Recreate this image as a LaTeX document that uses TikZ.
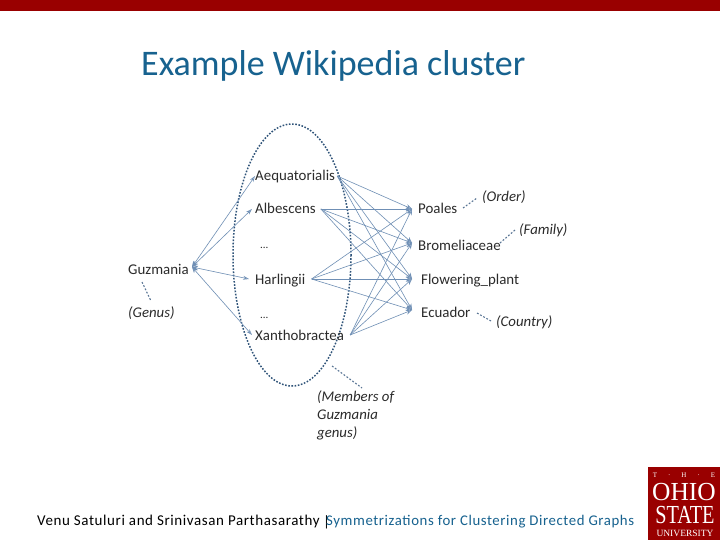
\documentclass[tikz,border=0pt]{standalone}
\usepackage{fontspec}
\setmainfont{Carlito}
\newfontfamily\serifx{Liberation Serif}
\newfontfamily\spaced[LetterSpace=4]{Carlito}
\usetikzlibrary{arrows.meta}
\definecolor{barred}{HTML}{990000}
\definecolor{titleblue}{HTML}{17628F}
\definecolor{edgeblue}{HTML}{6F8FB5}
\definecolor{dotblue}{HTML}{2F5379}
\definecolor{inkgrey}{HTML}{2B2B2B}
\tikzset{
 lbl/.style={inner sep=0pt,anchor=west,text height=10pt,text depth=0pt,font=\fontsize{14.9}{16}\selectfont,text=inkgrey},
 note/.style={lbl,font=\fontsize{14.8}{16}\selectfont\itshape},
 memnote/.style={inner sep=0pt,anchor=west,align=left,text=inkgrey,font=\fontsize{14.8}{18}\selectfont\itshape},
 link/.style={draw=edgeblue,line width=0.6pt,-{Stealth[length=6pt,width=5pt,open,fill=edgeblue!60]}},
 linkb/.style={draw=edgeblue,line width=0.6pt,{Stealth[length=6pt,width=5pt,fill=edgeblue]}-{Stealth[length=6pt,width=4pt,open]}},
 dotline/.style={draw=dotblue,line width=1.5pt,dash pattern=on 1.6pt off 1.6pt},
 ptr/.style={draw=dotblue!80,line width=1.1pt,dash pattern=on 1.8pt off 1.8pt},
 logo/.style={inner sep=0pt,text=white,font=\serifx},
}
\begin{document}
\begin{tikzpicture}[x=1pt,y=-1pt]
\useasboundingbox (0,0) rectangle (720,540);
\fill[white] (0,0) rectangle (720,540);
\fill[barred] (0,0) rectangle (720,11);
\node[inner sep=0pt,anchor=base west,text=titleblue,font=\fontsize{36}{38}\selectfont] (title) at (141,76) {Example Wikipedia cluster};
% ellipse
\draw[dotline] (292,255) ellipse [x radius=59,y radius=131];
% nodes
\node[lbl] (guz) at (128,269) {Guzmania};
\coordinate (guzE) at (192,267);
\node[note] (genus) at (128,312) {(Genus)};
\node[lbl] (aeq) at (255,176) {Aequatorialis};
\node[lbl] (alb) at (255,209) {Albescens};
\node[lbl,font=\fontsize{11}{12}\selectfont] (d1) at (260,243) {...};
\node[lbl] (har) at (255,279) {Harlingii};
\node[lbl,font=\fontsize{11}{12}\selectfont] (d2) at (260,313) {...};
\node[lbl] (xan) at (255,335) {Xanthobractea};
\node[lbl] (poa) at (418,209) {Poales};
\node[lbl] (bro) at (418,245) {Bromeliaceae};
\node[lbl] (flo) at (421,279) {Flowering\_plant};
\node[lbl] (ecu) at (421,312) {Ecuador};
\node[note] (ord) at (482,197) {(Order)};
\node[note] (fam) at (519,230) {(Family)};
\node[note] (cou) at (496,321) {(Country)};
\node[memnote] (mem) at (317,415) {(Members of\\Guzmania\\genus)};
% target points
\coordinate (tp) at (412,209);
\coordinate (tb) at (412,243);
\coordinate (tf) at (412,279);
\coordinate (te) at (412,310);
\coordinate (gs) at (142,282);
\coordinate (ge) at (151,301);
\coordinate (ms) at (332,366);
\coordinate (me) at (362,388);
\coordinate (os) at (463,208);
\coordinate (oe) at (477,198);
\coordinate (fs) at (500,243);
\coordinate (fe) at (515,230);
\coordinate (cs) at (477,313);
\coordinate (ce) at (491,321);
% fans
\foreach \s/\o in {aeq/2,alb/5,har/6,xan/6}{
 \foreach \t in {tp,tb,tf,te}{
  \draw[link] ([xshift=\o pt]\s.east) -- (\t);
 }
}
\draw[linkb] (guzE) -- (aeq.west);
\draw[linkb] (guzE) -- ([xshift=-3pt]alb.west);
\draw[linkb] (guzE) -- ([xshift=-6pt]har.west);
\draw[linkb] (guzE) -- ([xshift=-3pt]xan.west);
% pointers
\draw[ptr] (gs) -- (ge);
\draw[ptr] (os) -- (oe);
\draw[ptr] (fs) -- (fe);
\draw[ptr] (cs) -- (ce);
\draw[ptr] (ms) -- (me);
% footer
\node[inner sep=0pt,anchor=base west,text=black,font=\spaced\fontsize{15}{16}\selectfont] (au) at (37,525) {Venu Satuluri and Srinivasan Parthasarathy};
\node[inner sep=0pt,anchor=base west,text=black,font=\fontsize{15}{16}\selectfont] (sep) at (323,526) {|};
\node[inner sep=0pt,anchor=base west,text=titleblue,font=\spaced\fontsize{14.8}{16}\selectfont] (ft) at (326,525) {Symmetrizations for Clustering Directed Graphs};
% logo
\fill[barred] (648,467) rectangle (720,540);
\node[logo,font=\serifx\fontsize{7}{8}\selectfont] (l1) at (684,475) {T\hspace{11pt}·\hspace{11pt}H\hspace{11pt}·\hspace{11pt}E};
\node[logo,font=\serifx\fontsize{26}{27}\selectfont] (l2) at (684,492) {\scalebox{0.98}[1]{OHIO}};
\node[logo,font=\serifx\fontsize{26}{27}\selectfont] (l3) at (685,515) {\scalebox{0.78}[1]{STATE}};
\node[logo,font=\serifx\fontsize{9.5}{10}\selectfont] (l4) at (685,533) {UNIVERSITY};
\end{tikzpicture}
\end{document}
